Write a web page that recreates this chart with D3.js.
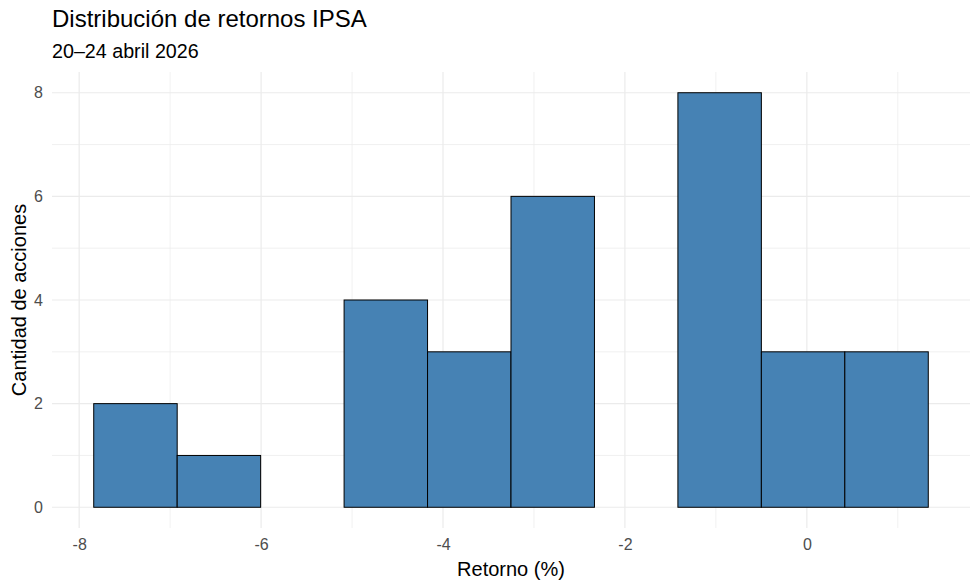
<!DOCTYPE html>
<html>
<head>
<meta charset="utf-8">
<script src="https://cdn.jsdelivr.net/npm/d3@7"></script>
<style>
  body { margin: 0; background: #fff; }
  text { font-family: "Liberation Sans", Arial, sans-serif; }
</style>
</head>
<body>
<div id="chart"></div>
<script>
// histogram data
var binStart = -7.84;
var binWidth = 0.9175;
var counts = [2, 1, 0, 4, 3, 6, 0, 8, 3, 3];
var xTicks = [-8, -6, -4, -2, 0];
var yTicks = [0, 2, 4, 6, 8];
var titleText = "Distribución de retornos IPSA";
var subtitleText = "20–24 abril 2026";
var xLabel = "Retorno (%)";
var yLabel = "Cantidad de acciones";

var width = 980, height = 588;
var margin = { top: 72, right: 10, bottom: 60, left: 52 };
var innerW = width - margin.left - margin.right;
var innerH = height - margin.top - margin.bottom;
var fontFam = "'Liberation Sans', Arial, sans-serif";

var bins = counts.map(function (c, i) {
  return { x0: binStart + i * binWidth, x1: binStart + (i + 1) * binWidth, n: c };
});

var svg = d3.select("#chart").append("svg")
  .attr("width", width)
  .attr("height", height);

var g = svg.append("g")
  .attr("transform", "translate(" + margin.left + "," + margin.top + ")");

// scales with ggplot-style 5% expansion
var xMin = bins[0].x0, xMax = bins[bins.length - 1].x1;
var xPad = (xMax - xMin) * 0.05;
var x = d3.scaleLinear().domain([xMin - xPad, xMax + xPad]).range([0, innerW]);
var yMax = d3.max(counts);
var y = d3.scaleLinear().domain([-yMax * 0.05, yMax * 1.05]).range([innerH, 0]);

// minor grid
var xMinor = xTicks.map(function (t) { return t + 1; }).concat([xTicks[0] - 1]);
var yMinor = yTicks.map(function (t) { return t + 1; });

g.selectAll("line.xminor").data(xMinor.filter(function (t) { return x(t) >= 0 && x(t) <= innerW; }))
  .enter().append("line")
  .attr("x1", function (d) { return x(d); }).attr("x2", function (d) { return x(d); })
  .attr("y1", 0).attr("y2", innerH)
  .attr("stroke", "#ebebeb").attr("stroke-width", 0.7);

g.selectAll("line.yminor").data(yMinor.filter(function (t) { return y(t) >= 0; }))
  .enter().append("line")
  .attr("x1", 0).attr("x2", innerW)
  .attr("y1", function (d) { return y(d); }).attr("y2", function (d) { return y(d); })
  .attr("stroke", "#ebebeb").attr("stroke-width", 0.7);

// major grid
g.selectAll("line.xmajor").data(xTicks)
  .enter().append("line")
  .attr("x1", function (d) { return x(d); }).attr("x2", function (d) { return x(d); })
  .attr("y1", 0).attr("y2", innerH)
  .attr("stroke", "#ebebeb").attr("stroke-width", 1.2);

g.selectAll("line.ymajor").data(yTicks)
  .enter().append("line")
  .attr("x1", 0).attr("x2", innerW)
  .attr("y1", function (d) { return y(d); }).attr("y2", function (d) { return y(d); })
  .attr("stroke", "#ebebeb").attr("stroke-width", 1.2);

// bars
g.selectAll("rect.bar").data(bins)
  .enter().append("rect")
  .attr("class", "bar")
  .attr("x", function (d) { return x(d.x0); })
  .attr("width", function (d) { return x(d.x1) - x(d.x0); })
  .attr("y", function (d) { return y(d.n); })
  .attr("height", function (d) { return y(0) - y(d.n); })
  .attr("fill", "steelblue")
  .attr("stroke", "black")
  .attr("stroke-width", 1);

// axes (tick labels only), hyphen minus like R
var fmt = function (d) { return String(d); };
var xAxis = g.append("g")
  .attr("transform", "translate(0," + innerH + ")")
  .call(d3.axisBottom(x).tickValues(xTicks).tickSize(0).tickPadding(11).tickFormat(fmt));
var yAxis = g.append("g")
  .call(d3.axisLeft(y).tickValues(yTicks).tickSize(0).tickPadding(9).tickFormat(fmt));

[xAxis, yAxis].forEach(function (a) {
  a.select(".domain").remove();
  a.attr("font-size", null).attr("font-family", null);
  a.selectAll("text")
    .attr("fill", "#4d4d4d")
    .attr("font-size", 16)
    .attr("font-family", fontFam);
});

// titles
svg.append("text")
  .attr("x", margin.left).attr("y", 27)
  .attr("font-size", 24).attr("font-family", fontFam)
  .attr("fill", "black")
  .text(titleText);

svg.append("text")
  .attr("x", margin.left).attr("y", 58)
  .attr("font-size", 19.7).attr("font-family", fontFam)
  .attr("fill", "black")
  .text(subtitleText);

svg.append("text")
  .attr("x", margin.left + innerW / 2).attr("y", 576)
  .attr("text-anchor", "middle")
  .attr("font-size", 20).attr("font-family", fontFam)
  .attr("fill", "black")
  .text(xLabel);

svg.append("text")
  .attr("transform", "translate(26," + (margin.top + innerH / 2) + ") rotate(-90)")
  .attr("text-anchor", "middle")
  .attr("font-size", 20).attr("font-family", fontFam)
  .attr("fill", "black")
  .text(yLabel);
</script>
</body>
</html>
